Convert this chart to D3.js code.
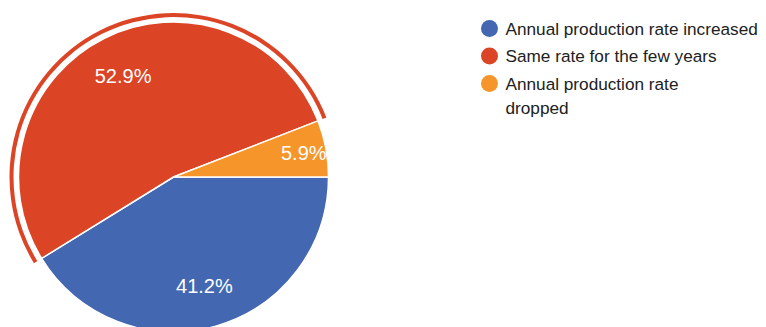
<!DOCTYPE html>
<html>
<head>
<meta charset="utf-8">
<script src="https://cdn.jsdelivr.net/npm/d3@7"></script>
<style>
  html, body { margin: 0; padding: 0; background: #fff; }
  svg { display: block; }
</style>
</head>
<body>
<svg id="chart" width="766" height="327"></svg>
<script>
const categories = ["Annual production rate increased", "Same rate for the few years", "Annual production rate dropped"];
const values = [41.2, 52.9, 5.9];
const colors = ["#4367b1", "#dc4426", "#f6952a"];
const legendLines = [["Annual production rate increased"], ["Same rate for the few years"], ["Annual production rate", "dropped"]];
const highlighted = 1;

const svg = d3.select("#chart");
const cx = 173.5, cy = 177, r = 155;
const font = "'Liberation Sans', Arial, sans-serif";

const data = categories.map((c, i) => ({ cat: c, value: values[i], color: colors[i] }));
const pie = d3.pie().sort(null).value(d => d.value)
  .startAngle(Math.PI / 2).endAngle(Math.PI / 2 + 2 * Math.PI);
const arcs = pie(data);
const arc = d3.arc().innerRadius(0).outerRadius(r);

const g = svg.append("g").attr("transform", `translate(${cx},${cy})`);
g.selectAll("path.slice").data(arcs).enter().append("path")
  .attr("class", "slice")
  .attr("d", arc)
  .attr("fill", d => d.data.color)
  .attr("stroke", "#fff")
  .attr("stroke-width", 1.5)
  .attr("stroke-linejoin", "round");

// highlight ring around the selected slice
const ring = d3.arc().innerRadius(r + 5).outerRadius(r + 9);
g.append("path")
  .datum(arcs[highlighted])
  .attr("d", ring)
  .attr("fill", colors[highlighted]);

// percentage labels
g.selectAll("text.lbl").data(arcs).enter().append("text")
  .attr("class", "lbl")
  .attr("transform", d => {
    const a = (d.startAngle + d.endAngle) / 2;
    const lr = (d.endAngle - d.startAngle) < 0.6 ? r * 0.855 : r * 0.73;
    return `translate(${Math.sin(a) * lr},${-Math.cos(a) * lr})`;
  })
  .attr("text-anchor", "middle")
  .attr("dy", "0.36em")
  .attr("fill", "#fff")
  .style("font-family", font)
  .style("font-size", "20px")
  .text(d => d.data.value.toFixed(1) + "%");

// legend
const lg = svg.append("g").attr("transform", "translate(489.5,28.5)");
const rowY = [0, 27.5, 55];
const items = lg.selectAll("g.item").data(data).enter().append("g")
  .attr("class", "item")
  .attr("transform", (d, i) => `translate(0,${rowY[i]})`);
items.append("circle").attr("r", 8.5).attr("fill", d => d.color);
items.each(function(d, i) {
  const t = d3.select(this).append("text")
    .attr("x", 16)
    .attr("y", 6)
    .attr("fill", "#212121")
    .style("font-family", font)
    .style("font-size", "17.2px");
  legendLines[i].forEach((ln, j) => {
    t.append("tspan").attr("x", 16).attr("dy", j === 0 ? 0 : 24.5).text(ln);
  });
});
</script>
</body>
</html>
